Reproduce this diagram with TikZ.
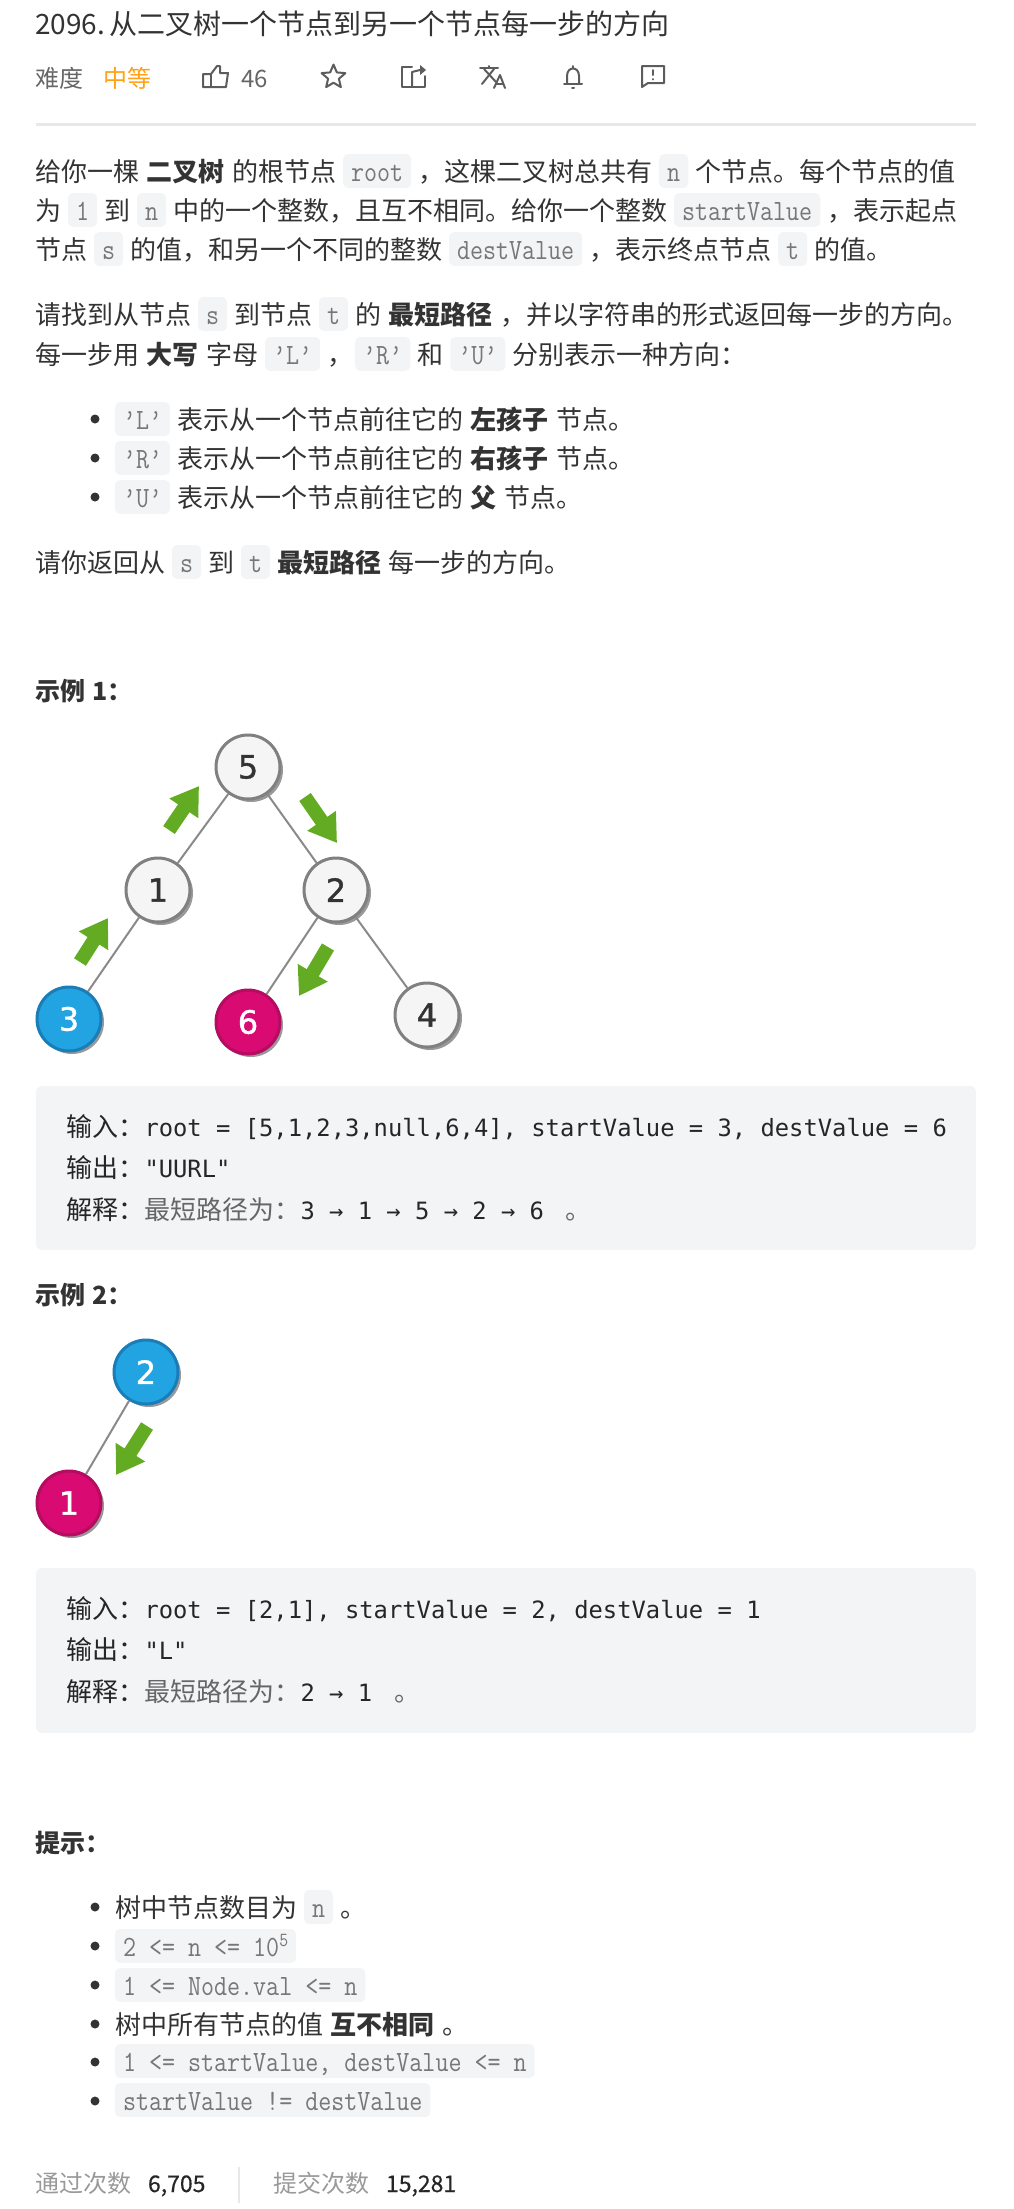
\documentclass[tikz,border=0pt]{standalone}
\usepackage{fontspec}
\setmainfont[WordSpace=1.3]{Noto Sans CJK SC}
\setmonofont[FakeStretch=0.86]{Latin Modern Mono}
\newfontfamily\dejamono{DejaVu Sans Mono}
\newfontfamily\nodedigits[FakeBold=1.2]{DejaVu Sans}
\newfontfamily\countfont[FakeBold=0.5]{Noto Sans CJK SC}
\usepackage{tikz}
\usetikzlibrary{positioning,arrows.meta,shadows,shapes.geometric}
\definecolor{lc-text}{HTML}{333333}
\definecolor{lc-grey}{HTML}{666666}
\definecolor{lc-pale}{HTML}{999999}
\definecolor{lc-icon}{HTML}{5C5C5C}
\definecolor{lc-rule}{HTML}{E8E8E8}
\definecolor{lc-chip}{HTML}{F3F4F6}
\definecolor{lc-chiptext}{HTML}{777777}
\definecolor{lc-orange}{HTML}{FFA116}
\definecolor{lc-green}{HTML}{64AB24}
\definecolor{lc-edge}{HTML}{8A8A8A}
\definecolor{lc-node}{HTML}{F5F5F5}
\definecolor{lc-ring}{HTML}{808080}
\definecolor{lc-blue}{HTML}{22A3E2}
\definecolor{lc-blueline}{HTML}{1A7DB8}
\definecolor{lc-pink}{HTML}{D90A71}
\definecolor{lc-pinkline}{HTML}{B30C60}
\newcommand{\bodyfont}{\rmfamily\fontsize{26}{30}\selectfont}
\newcommand{\chipfont}{\ttfamily\fontsize{29.4}{34}\selectfont}
\newcommand{\codefont}{\dejamono\fontsize{23.8}{30}\selectfont}
\newcommand{\codecjk}[1]{{\bodyfont #1}}
\newcommand{\supfive}{\raisebox{10pt}{\fontsize{20}{22}\selectfont 5}}
\tikzset{
  txt/.style={anchor=base west, inner sep=0pt, outer sep=0pt, font=\bodyfont, text=lc-text},
  meta/.style={txt, font=\rmfamily\fontsize{24}{28}\selectfont},
  countnum/.style={txt, font=\countfont\fontsize{23}{28}\selectfont, text=black!85},
  chip/.style={anchor=base west, fill=lc-chip, rounded corners=5pt, inner xsep=8pt, inner ysep=2pt,
    outer sep=0pt, text height=25pt, text depth=5pt, font=\chipfont, text=lc-chiptext},
  codeline/.style={txt, font=\codefont, text=black!85},
  plainnode/.style={circle, minimum size=64pt, inner sep=0pt, line width=3pt, draw=lc-ring, fill=lc-node,
    text=lc-text, font=\nodedigits\fontsize{32}{36}\selectfont,
    drop shadow={shadow xshift=3pt, shadow yshift=-3pt, fill=black, opacity=.4}},
  startnode/.style={plainnode, draw=lc-blueline, fill=lc-blue, text=white},
  destnode/.style={plainnode, draw=lc-pinkline, fill=lc-pink, text=white},
  treeedge/.style={draw=lc-edge, line width=2pt},
  pathstep/.style={draw=lc-green, line width=14pt, -{Triangle[width=33pt,length=27pt,fill=lc-green]}},
  iconline/.style={draw=lc-icon, line width=2pt, line join=round, line cap=round},
}
\begin{document}
\begin{tikzpicture}[x=1pt, y=-1pt, node distance=7pt]
    \useasboundingbox (0,0) rectangle (1014,2209);

    % Title
    \node[txt, font=\rmfamily\fontsize{28}{32}\selectfont] (title) at (35,34) {2096.\hspace{5pt}从二叉树一个节点到另一个节点每一步的方向};

    % Meta row
    \node[meta, text=lc-grey] (level) at (35,87) {难度};
    \node[meta, text=lc-orange] (levelvalue) at (103,87) {中等};
    \node[meta, text=lc-grey] (likes) at (241,87) {46};
    \node[star, star points=5, star point ratio=2.2, minimum size=25pt, inner sep=0pt, iconline] (staricon) at (333.5,77) {};

    % Thumb
    \draw[iconline] (211,74) -- (217,66) -- (220,66) -- (220,73) -- (228,73) -- (226,87) -- (203,87) -- (203,74) -- cycle;
    \draw[iconline] (211,74) -- (211,87);
    % Share
    \draw[iconline] (412,67) -- (402,67) -- (402,87) -- (425,87) -- (425,76);
    \draw[iconline] (412,86) -- (412,72) -- (420,70);
    \fill[lc-icon] (420,65) -- (426,70) -- (420,75) -- cycle;
    % Translate
    \draw[iconline] (480,68) -- (498,68);
    \draw[iconline] (489,66) -- (489,68);
    \draw[iconline] (484,69) -- (496,82);
    \draw[iconline] (494,69) -- (482,84);
    \draw[iconline] (494,88) -- (500,75) -- (505,88);
    \draw[iconline] (496,84) -- (503,84);
    % Bell
    \draw[iconline] (564,84) -- (582,84);
    \draw[iconline] (567,84) -- (567,76) .. controls (567,66) and (579,66) .. (579,76) -- (579,84);
    \draw[iconline] (573,66) -- (573,68);
    \draw[iconline] (572,88) -- (574,88);
    % Flag
    \draw[iconline] (642,66) -- (664,66) -- (664,83) -- (648,83) -- (642,87) -- cycle;
    \draw[iconline] (653,70) -- (653,75);
    \draw[iconline] (653,79) -- (653,79.5);

    % Rule
    \fill[lc-rule] (36,123) rectangle (976,125.5);

    % First paragraph
    \node[txt] (a1) at (35,181) {给你一棵 \textbf{二叉树} 的根节点};
    \node[chip, base right=of a1] (a2) {root};
    \node[txt, base right=of a2] (a3) {，这棵二叉树总共有};
    \node[chip, base right=of a3] (a4) {n};
    \node[txt, base right=of a4] (a5) {个节点。每个节点的值};

    \node[txt] (b1) at (35,220) {为};
    \node[chip, base right=of b1] (b2) {1};
    \node[txt, base right=of b2] (b3) {到};
    \node[chip, base right=of b3] (b4) {n};
    \node[txt, base right=of b4] (b5) {中的一个整数，且互不相同。给你一个整数};
    \node[chip, base right=of b5] (b6) {startValue};
    \node[txt, base right=of b6] (b7) {，表示起点};

    \node[txt] (c1) at (35,259) {节点};
    \node[chip, base right=of c1] (c2) {s};
    \node[txt, base right=of c2] (c3) {的值，和另一个不同的整数};
    \node[chip, base right=of c3] (c4) {destValue};
    \node[txt, base right=of c4] (c5) {，表示终点节点};
    \node[chip, base right=of c5] (c6) {t};
    \node[txt, base right=of c6] (c7) {的值。};

    % Second paragraph
    \node[txt] (d1) at (35,324) {请找到从节点};
    \node[chip, base right=of d1] (d2) {s};
    \node[txt, base right=of d2] (d3) {到节点};
    \node[chip, base right=of d3] (d4) {t};
    \node[txt, base right=of d4] (d5) {的 \textbf{最短路径} ，并以字符串的形式返回每一步的方向。};

    \node[txt] (e1) at (35,364) {每一步用 \textbf{大写} 字母};
    \node[chip, base right=of e1] (e2) {’L’};
    \node[txt, base right=of e2] (e3) {，};
    \node[chip, base right=2pt of e3] (e4) {’R’};
    \node[txt, base right=of e4] (e5) {和};
    \node[chip, base right=of e5] (e6) {’U’};
    \node[txt, base right=of e6] (e7) {分别表示一种方向：};

    % Direction list
    \fill[lc-text] (95,419) circle (4.5pt);
    \fill[lc-text] (95,458) circle (4.5pt);
    \fill[lc-text] (95,497) circle (4.5pt);
    \node[chip] (f1) at (115,429) {’L’};
    \node[txt, base right=of f1] (f2) {表示从一个节点前往它的 \textbf{左孩子} 节点。};
    \node[chip] (g1) at (115,468) {’R’};
    \node[txt, base right=of g1] (g2) {表示从一个节点前往它的 \textbf{右孩子} 节点。};
    \node[chip] (h1) at (115,507) {’U’};
    \node[txt, base right=of h1] (h2) {表示从一个节点前往它的 \textbf{父} 节点。};

    % Last sentence
    \node[txt] (i1) at (35,572) {请你返回从};
    \node[chip, base right=of i1] (i2) {s};
    \node[txt, base right=of i2] (i3) {到};
    \node[chip, base right=of i3] (i4) {t};
    \node[txt, base right=of i4] (i5) {\textbf{最短路径} 每一步的方向。};

    % Example 1
    \node[txt, font=\rmfamily\bfseries\fontsize{25}{30}\selectfont] (exone) at (35,700) {示例 1：};

    % Tree of example 1
    \node[plainnode] (n5) at (248,767) {5};
    \node[plainnode] (n1) at (158,890) {1};
    \node[plainnode] (n2) at (336,890) {2};
    \node[startnode] (n3) at (69,1019) {3};
    \node[destnode] (n6) at (248,1022) {6};
    \node[plainnode] (n4) at (427,1015) {4};
    \draw[treeedge] (n5) -- (n1);
    \draw[treeedge] (n5) -- (n2);
    \draw[treeedge] (n1) -- (n3);
    \draw[treeedge] (n2) -- (n6);
    \draw[treeedge] (n2) -- (n4);

    % Path of example 1
    \coordinate (p1a) at (80,962);
    \coordinate (p1b) at (108,918);
    \coordinate (p2a) at (169,830);
    \coordinate (p2b) at (199,786);
    \coordinate (p3a) at (305,797);
    \coordinate (p3b) at (337,843);
    \coordinate (p4a) at (328,947);
    \coordinate (p4b) at (299,996);
    \draw[pathstep] (p1a) -- (p1b);
    \draw[pathstep] (p2a) -- (p2b);
    \draw[pathstep] (p3a) -- (p3b);
    \draw[pathstep] (p4a) -- (p4b);

    % Code of example 1
    \fill[lc-chip, rounded corners=6pt] (36,1086) rectangle (976,1250);
    \node[codeline] (codea) at (66.5,1136) {\codecjk{输入：}root = [5,1,2,3,null,6,4], startValue = 3, destValue = 6};
    \node[codeline] (codeb) at (66.5,1177) {\codecjk{输出：}"UURL"};
    \node[codeline] (codec) at (66.5,1219) {\codecjk{解释：{\color{lc-grey}最短路径为：}}3 → 1 → 5 → 2 → 6 \codecjk{\color{lc-grey}\ 。}};

    % Example 2
    \node[txt, font=\rmfamily\bfseries\fontsize{25}{30}\selectfont] (extwo) at (35,1304) {示例 2：};

    % Tree of example 2
    \node[startnode] (m2) at (146,1372) {2};
    \node[destnode] (m1) at (69,1503) {1};
    \draw[treeedge] (m2) -- (m1);
    \coordinate (q1a) at (147,1426);
    \coordinate (q1b) at (116,1475);
    \draw[pathstep] (q1a) -- (q1b);

    % Code of example 2
    \fill[lc-chip, rounded corners=6pt] (36,1568) rectangle (976,1733);
    \node[codeline] (coded) at (66.5,1618) {\codecjk{输入：}root = [2,1], startValue = 2, destValue = 1};
    \node[codeline] (codee) at (66.5,1659) {\codecjk{输出：}"L"};
    \node[codeline] (codef) at (66.5,1701) {\codecjk{解释：{\color{lc-grey}最短路径为：}}2 → 1 \codecjk{\color{lc-grey}\ 。}};

    % Hints
    \node[txt, font=\rmfamily\bfseries\fontsize{25}{30}\selectfont] (hints) at (35,1852) {提示：};
    \fill[lc-text] (95,1907) circle (4.5pt);
    \fill[lc-text] (95,1946) circle (4.5pt);
    \fill[lc-text] (95,1985) circle (4.5pt);
    \fill[lc-text] (95,2024) circle (4.5pt);
    \fill[lc-text] (95,2062) circle (4.5pt);
    \fill[lc-text] (95,2101) circle (4.5pt);
    \node[txt] (j1) at (115,1917) {树中节点数目为};
    \node[chip, base right=of j1] (j2) {n};
    \node[txt, base right=of j2] (j3) {。};
    \node[chip] (k1) at (115,1956) {2 <= n <= 10\supfive};
    \node[chip] (l1) at (115,1995) {1 <= Node.val <= n};
    \node[txt] (m3) at (115,2034) {树中所有节点的值 \textbf{互不相同} 。};
    \node[chip] (o1) at (115,2071) {1 <= startValue, destValue <= n};
    \node[chip] (r1) at (115,2110) {startValue != destValue};

    % Footer
    \node[meta, text=lc-pale] (passed) at (35,2192) {通过次数};
    \node[countnum] (passednum) at (148,2192) {6,705};
    \draw[lc-rule, line width=2pt] (239,2167) -- (239,2203);
    \node[meta, text=lc-pale] (sent) at (273,2192) {提交次数};
    \node[countnum] (sentnum) at (386,2192) {15,281};

\end{tikzpicture}
\end{document}
